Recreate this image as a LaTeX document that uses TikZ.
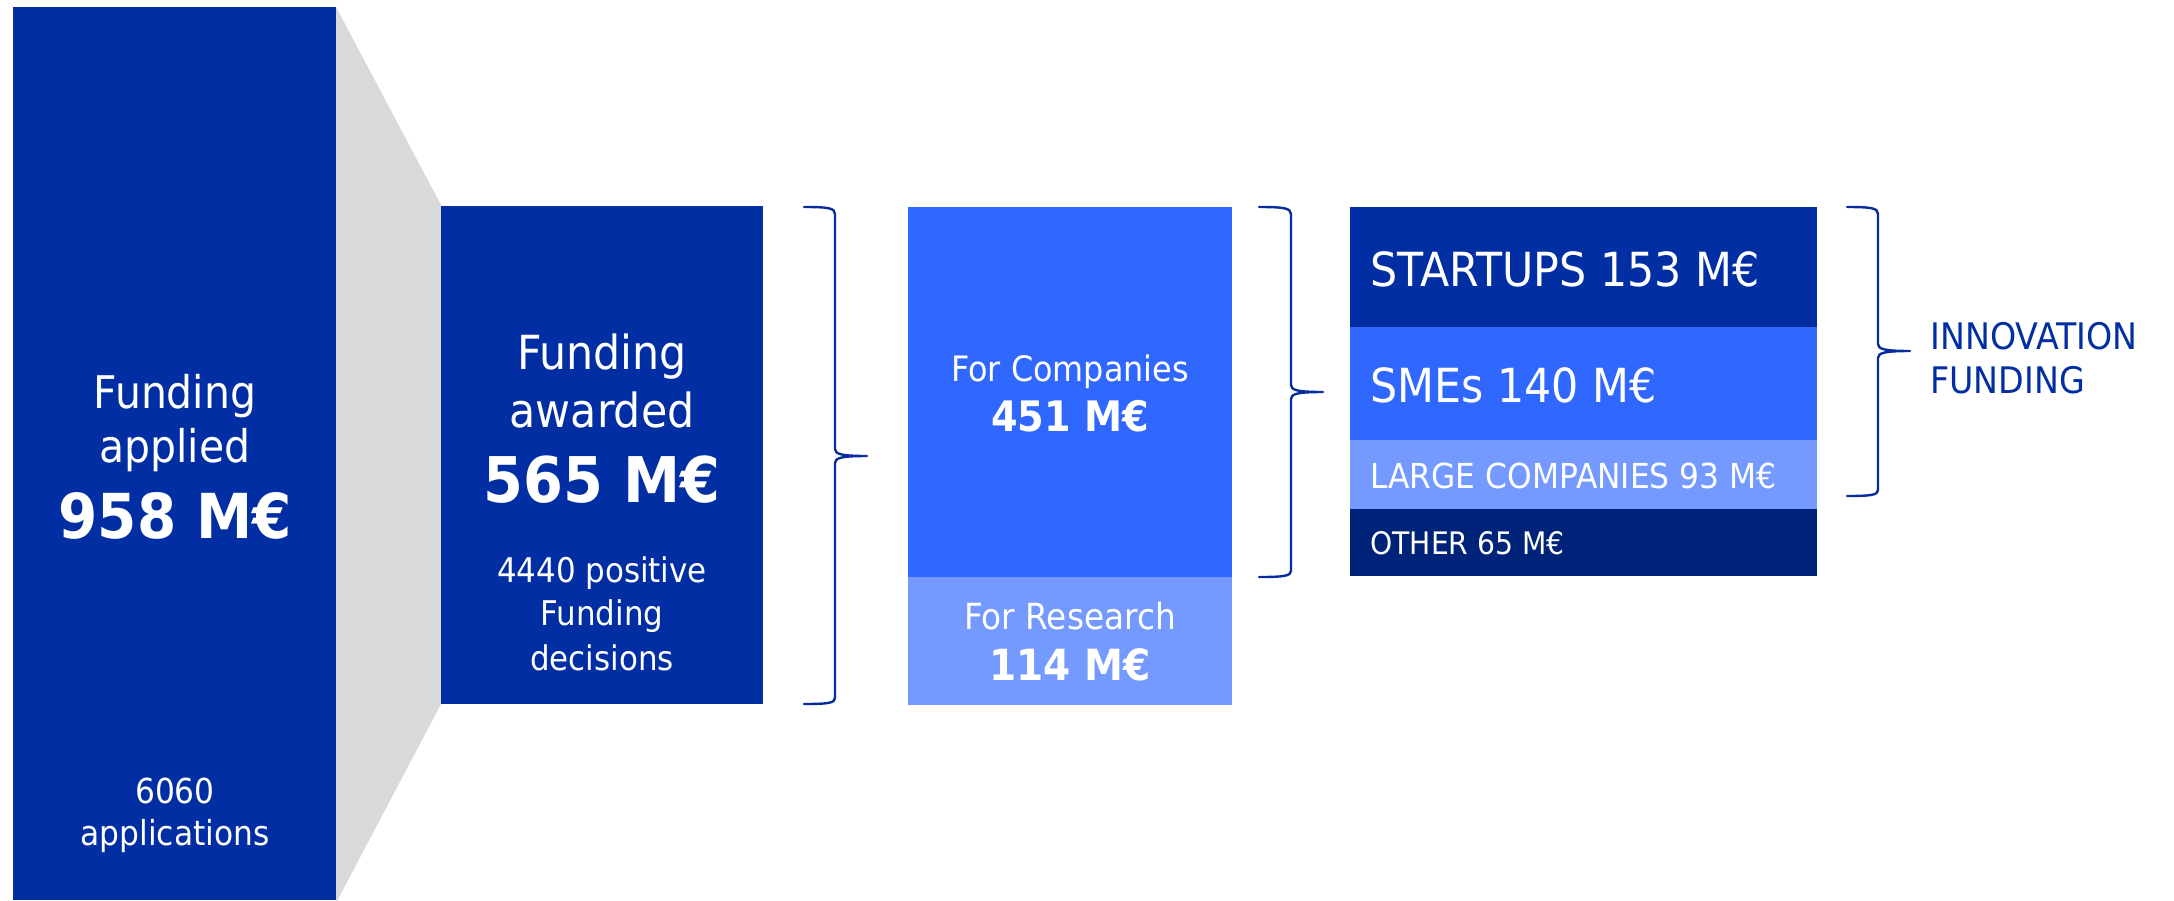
\documentclass[tikz,border=0pt]{standalone}
\usepackage{fontspec}
\setmainfont[FakeStretch=0.91]{DejaVu Sans}
\definecolor{dblue}{RGB}{1,46,162}
\definecolor{mblue}{RGB}{48,104,255}
\definecolor{lblue}{RGB}{116,153,255}
\definecolor{nblue}{RGB}{0,35,122}
\definecolor{fgrey}{RGB}{217,217,217}
\definecolor{braceblue}{RGB}{8,44,160}
\newcommand\fsz[1]{\fontsize{#1}{#1}\selectfont}
\begin{document}
\begin{tikzpicture}[x=0.5pt,y=-0.5pt,
  txt/.style={text=white, inner sep=0pt, anchor=base},
  ltxt/.style={txt, anchor=base west},
  brc/.style={draw=braceblue, line width=1.2pt, line cap=round, line join=round}]
\useasboundingbox (0,0) rectangle (2174,900);
% funnel
\fill[fgrey] (336,7) -- (441,205) -- (441,704) -- (336,903) -- cycle;
% boxes
\fill[dblue] (13,7) rectangle (336,900);
\fill[dblue] (441,206) rectangle (763,704);
\fill[mblue] (908,207) rectangle (1232,577);
\fill[lblue] (908,577) rectangle (1232,705);
\fill[dblue] (1350,207) rectangle (1817,327);
\fill[mblue] (1350,327) rectangle (1817,440);
\fill[lblue] (1350,440) rectangle (1817,509);
\fill[nblue] (1350,509) rectangle (1817,576);
% box 1 text
\node[txt, font=\fsz{22.5}] (a1) at (175,408) {Funding};
\node[txt, font=\fsz{22.5}] (a2) at (175,462) {applied};
\node[txt, font=\fsz{31}\bfseries] (a3) at (175,538) {958 M€};
\node[txt, font=\fsz{17.2}] (a4) at (175,803) {6060};
\node[txt, font=\fsz{17.2}] (a5) at (175,845) {applications};
% box 2 text
\node[txt, font=\fsz{23.5}] (b1) at (602,369) {Funding};
\node[txt, font=\fsz{23.5}] (b2) at (602,427) {awarded};
\node[txt, font=\fsz{31.5}\bfseries] (b3) at (602,502) {565 M€};
\node[txt, font=\fsz{17}] (b4) at (602,582) {4440 positive};
\node[txt, font=\fsz{17}] (b5) at (602,625) {Funding};
\node[txt, font=\fsz{17}] (b6) at (602,670) {decisions};
% box 3 text
\node[txt, font=\fsz{17.5}] (c1) at (1070,381) {For Companies};
\node[txt, font=\fsz{21}\bfseries] (c2) at (1070,431) {451 M€};
\node[txt, font=\fsz{18}] (c3) at (1070,629) {For Research};
\node[txt, font=\fsz{21.5}\bfseries] (c4) at (1070,680) {114 M€};
% box 4 text
\node[ltxt, font=\fsz{23.5}] (d1) at (1370,286) {STARTUPS 153 M€};
\node[ltxt, font=\fsz{23.5}] (d2) at (1370,402) {SMEs 140 M€};
\node[ltxt, font=\fsz{17.2}] (d3) at (1370,488) {LARGE COMPANIES 93 M€};
\node[ltxt, font=\fsz{15.5}] (d4) at (1370,554) {OTHER 65 M€};
% label
\node[ltxt, text=dblue, font=\fsz{18.3}] (e1) at (1930,349) {INNOVATION};
\node[ltxt, text=dblue, font=\fsz{18.3}] (e2) at (1930,393) {FUNDING};
% braces
\draw[brc] (804,207) .. controls (828,207) and (835,208) .. (835,214) -- (835,449)
  .. controls (835,454) and (841,456) .. (867,456)
  .. controls (841,456) and (835,458) .. (835,463) -- (835,698)
  .. controls (835,703) and (828,704) .. (804,704);
\draw[brc] (1259,207) .. controls (1283,207) and (1291,208) .. (1291,214) -- (1291,385)
  .. controls (1291,390) and (1297,392) .. (1323,392)
  .. controls (1297,392) and (1291,394) .. (1291,399) -- (1291,571)
  .. controls (1291,576) and (1283,577) .. (1259,577);
\draw[brc] (1847,207) .. controls (1871,207) and (1878,208) .. (1878,214) -- (1878,344)
  .. controls (1878,349) and (1884,351) .. (1910,351)
  .. controls (1884,351) and (1878,353) .. (1878,358) -- (1878,490)
  .. controls (1878,495) and (1871,496) .. (1847,496);
\end{tikzpicture}
\end{document}
